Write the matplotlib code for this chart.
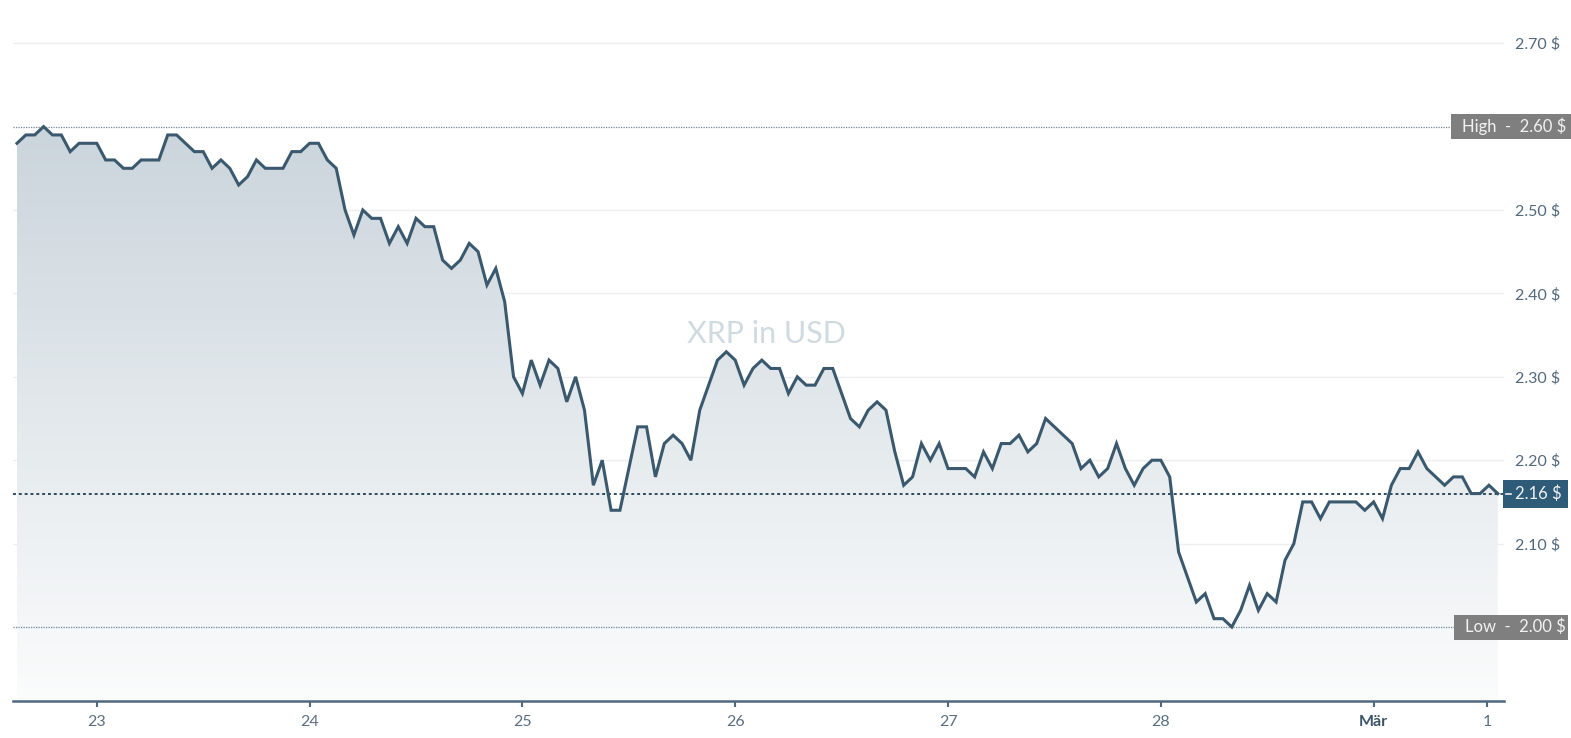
import numpy as np
import matplotlib.pyplot as plt
import matplotlib.transforms as mtransforms
from matplotlib.patches import Rectangle

plt.rcParams['font.family'] = ['Lato', 'DejaVu Sans']

# hourly XRP price, start 22 Feb 15:00
prices = [2.58, 2.59, 2.59, 2.60, 2.59, 2.59, 2.57, 2.58, 2.58, 2.58,
          2.56, 2.56, 2.55, 2.55, 2.56, 2.56, 2.56, 2.59, 2.59, 2.58,
          2.57, 2.57, 2.55, 2.56, 2.55, 2.53, 2.54, 2.56, 2.55, 2.55,
          2.55, 2.57, 2.57, 2.58, 2.58, 2.56, 2.55, 2.50, 2.47, 2.50,
          2.49, 2.49, 2.46, 2.48, 2.46, 2.49, 2.48, 2.48, 2.44, 2.43,
          2.44, 2.46, 2.45, 2.41, 2.43, 2.39, 2.30, 2.28, 2.32, 2.29,
          2.32, 2.31, 2.27, 2.30, 2.26, 2.17, 2.20, 2.14, 2.14, 2.19,
          2.24, 2.24, 2.18, 2.22, 2.23, 2.22, 2.20, 2.26, 2.29, 2.32,
          2.33, 2.32, 2.29, 2.31, 2.32, 2.31, 2.31, 2.28, 2.30, 2.29,
          2.29, 2.31, 2.31, 2.28, 2.25, 2.24, 2.26, 2.27, 2.26, 2.21,
          2.17, 2.18, 2.22, 2.20, 2.22, 2.19, 2.19, 2.19, 2.18, 2.21,
          2.19, 2.22, 2.22, 2.23, 2.21, 2.22, 2.25, 2.24, 2.23, 2.22,
          2.19, 2.20, 2.18, 2.19, 2.22, 2.19, 2.17, 2.19, 2.20, 2.20,
          2.18, 2.09, 2.06, 2.03, 2.04, 2.01, 2.01, 2.00, 2.02, 2.05,
          2.02, 2.04, 2.03, 2.08, 2.10, 2.15, 2.15, 2.13, 2.15, 2.15,
          2.15, 2.15, 2.14, 2.15, 2.13, 2.17, 2.19, 2.19, 2.21, 2.19,
          2.18, 2.17, 2.18, 2.18, 2.16, 2.16, 2.17, 2.16]

tick_pos = [9, 33, 57, 81, 105, 129, 153, 165.8]
tick_labels = ['23', '24', '25', '26', '27', '28', 'Mär', '1']
ytick_vals = [2.10, 2.20, 2.30, 2.40, 2.50, 2.70]
high_val = 2.60
low_val = 2.00
last_val = 2.16

x = np.arange(len(prices))
y = np.array(prices)

W, H = 1571, 738
fig = plt.figure(figsize=(W / 100, H / 100), dpi=100)
ax = fig.add_axes([13 / W, (H - 701) / H, (1504 - 13) / W, 699.5 / H])
ylo, yhi = 1.9113, 2.75
ax.set_xlim(-0.45, 167.7)
ax.set_ylim(ylo, yhi)

# gradient fill under the line
grad = np.linspace(0, 1, 256).reshape(-1, 1)
top = np.array([192, 204, 213]) / 255
bot = np.array([251, 252, 252]) / 255
img = top + (bot - top) * grad
img = img.reshape(256, 1, 3)
fill = ax.fill_between(x, y, ylo, color='none', lw=0)
im = ax.imshow(img, extent=[x[0], x[-1], ylo, yhi], aspect='auto', zorder=1)
path = fill.get_paths()[0]
im.set_clip_path(path, transform=ax.transData)

ax.plot(x, y, color='#3a596e', lw=2.2, zorder=4, solid_joinstyle='miter')

# grid
for v in ytick_vals:
    ax.axhline(v, color='#eceff1', lw=1, zorder=0.5)

# high / low / last lines
ax.hlines(high_val, 0, 0.9645, transform=ax.get_yaxis_transform(),
          colors='#6f8698', lw=0.9, linestyles=(0, (1, 1)), zorder=3)
ax.hlines(low_val, 0, 0.9665, transform=ax.get_yaxis_transform(),
          colors='#6f8698', lw=0.9, linestyles=(0, (1, 1)), zorder=3)
ax.hlines(last_val, 0, 1.0, transform=ax.get_yaxis_transform(),
          colors='#2e4b60', lw=1.4, linestyles=(0, (1.5, 1.5)), zorder=3)

blend = mtransforms.blended_transform_factory(fig.transFigure, ax.transData)
ppd = 834.0  # pixels per data unit


def label_box(x0, x1, val, h, color, text, tx):
    hd = h / ppd
    fig.add_artist(Rectangle((x0 / W, val - hd / 2), (x1 - x0) / W, hd,
                             transform=blend, color=color, lw=0, clip_on=False))
    fig.text(tx / W, val, text, transform=blend, color='#f2f2f2',
             fontsize=12, va='center', ha='left')


label_box(1451, 1571, high_val, 25, '#7f7f7f', 'High  -  2.60 $', 1462)
label_box(1454, 1568, low_val, 25, '#7f7f7f', 'Low  -  2.00 $', 1465)
label_box(1503, 1568, last_val, 28, '#2d5b78', '2.16 $', 1515)
fig.add_artist(plt.Line2D([1506 / W, 1511 / W], [last_val, last_val],
                          transform=blend, color='#f2f2f2', lw=1.2))

# axes styling
for s in ['top', 'left', 'right']:
    ax.spines[s].set_visible(False)
ax.spines['bottom'].set_color('#4f697f')
ax.spines['bottom'].set_linewidth(1.8)

ax.yaxis.tick_right()
ax.set_yticks(ytick_vals)
ax.set_yticklabels([f'{v:.2f} $' for v in ytick_vals])
ax.tick_params(axis='y', length=0, pad=8, labelsize=11.5, labelcolor='#52687c')

ax.set_xticks(tick_pos)
ax.set_xticklabels(tick_labels)
ax.tick_params(axis='x', length=4, width=1.5, color='#4f697f', pad=6,
               labelsize=11.5, labelcolor='#5b6f82')
for lab in ax.get_xticklabels():
    if lab.get_text() == 'Mär':
        lab.set_fontweight('bold')
        lab.set_color('#3d5468')

ax.text(0.505, 0.525, 'XRP in USD', transform=ax.transAxes, fontsize=22,
        color='#d0dae1', ha='center', va='center', zorder=2)

fig.savefig('out.png', dpi=100)
